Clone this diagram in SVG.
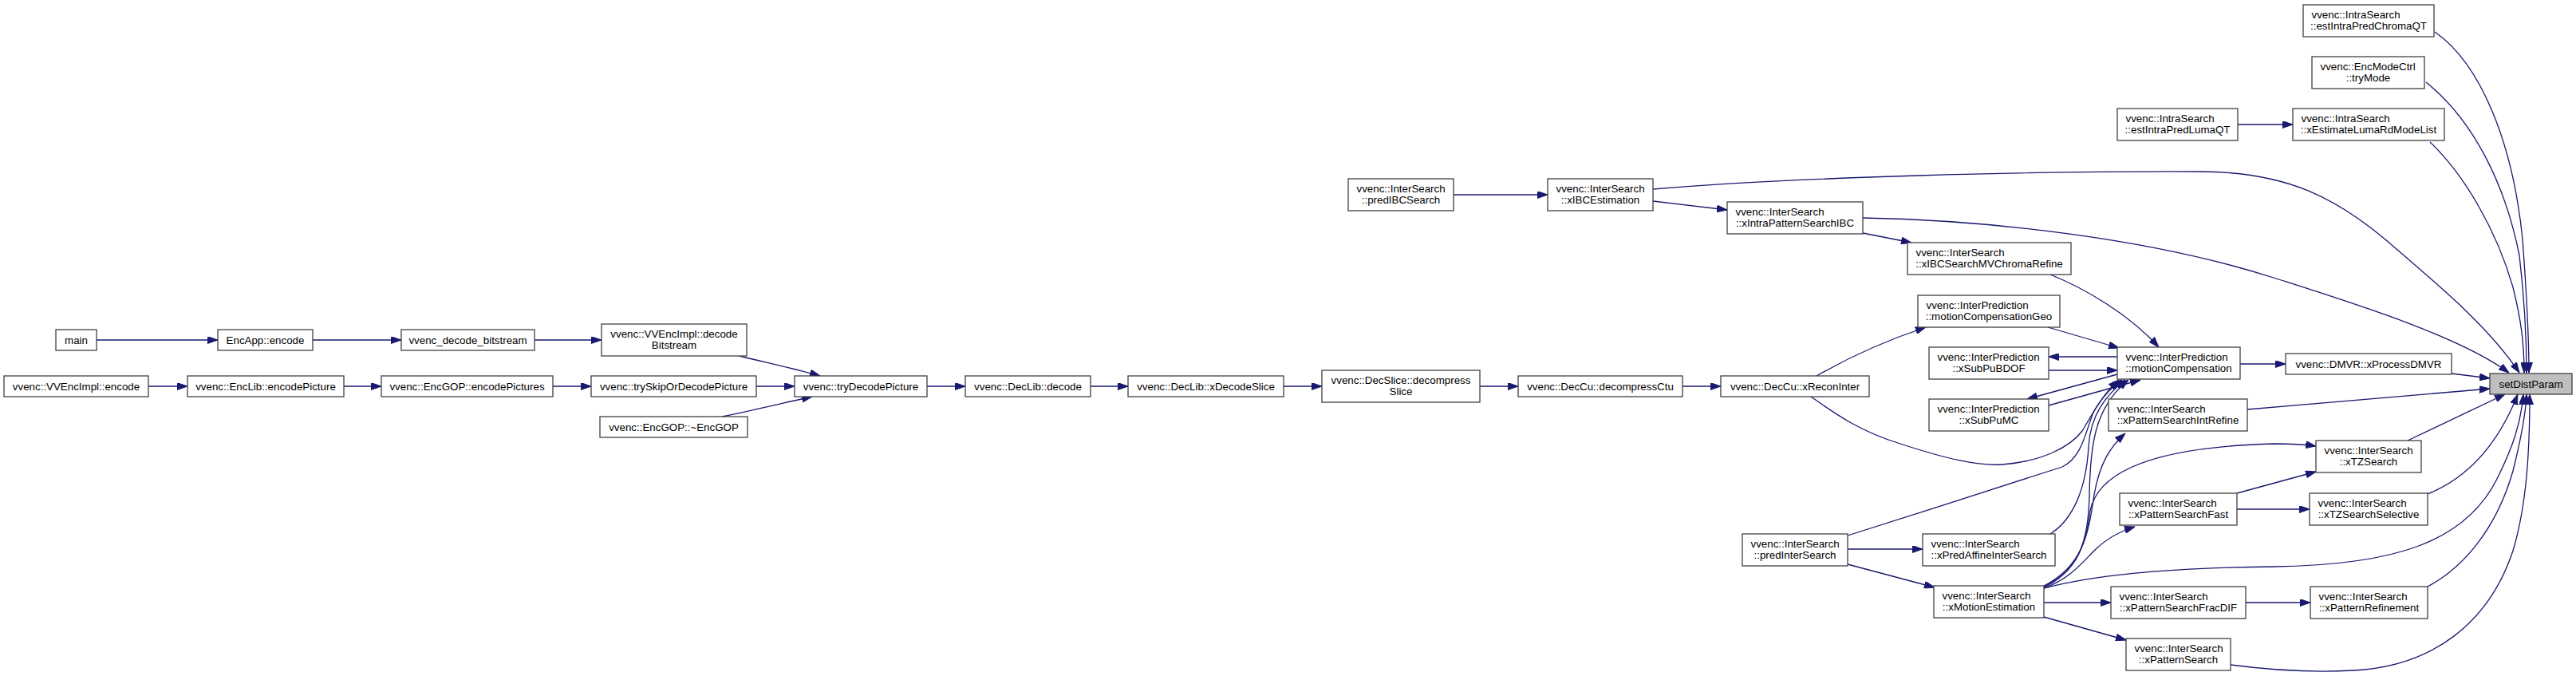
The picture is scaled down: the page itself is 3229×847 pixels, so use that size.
<svg xmlns="http://www.w3.org/2000/svg" width="3229" height="847" viewBox="0 0 3229 847">
<style>
.n rect{fill:#fff;stroke:#404040;stroke-width:1.3}
#n_sdp rect{fill:#bfbfbf}
text{font-family:"Liberation Sans",Arial,Helvetica,sans-serif;font-size:13.33px;fill:#000}
.m{text-anchor:middle}
.s{text-anchor:start}
.e path{fill:none;stroke:#191970;stroke-width:1.3;marker-end:url(#a)}
</style>
<defs>
<marker id="a" markerUnits="userSpaceOnUse" markerWidth="13" markerHeight="9" viewBox="0 0 13 9" refX="13" refY="4.5" orient="auto">
<path d="M0,0 L13,4.5 L0,9 z" fill="#191970" stroke="#191970" stroke-width="1"/>
</marker>
</defs>
<rect width="3229" height="847" fill="#fff"/>
<g class="e" id="edges">
<path d="M121,426 L273,426"/>
<path d="M392,426 L503,426"/>
<path d="M670,426 L754,426"/>
<path d="M927,446 C955,453 1000,463 1028,471"/>
<path d="M186,484 L235,484"/>
<path d="M431,484 L478,484"/>
<path d="M693,484 L741,484"/>
<path d="M948,484 L996,484"/>
<path d="M905,522 C945,514 985,504 1018,497"/>
<path d="M1162,484 L1210,484"/>
<path d="M1367,484 L1414,484"/>
<path d="M1609,484 L1657,484"/>
<path d="M1855,484 L1903,484"/>
<path d="M2109,484 L2157,484"/>
<path d="M2277,471 C2310,452 2360,428 2414,410"/>
<path d="M2270,497 C2300,518 2330,540 2382,556 C2440,575 2480,584 2510,582 C2560,578 2595,560 2610,540 C2625,515 2635,495 2656,476"/>
<path d="M2570,344 C2615,362 2670,395 2706,435"/>
<path d="M2567,410 L2656,436"/>
<path d="M2654,447 L2568,447"/>
<path d="M2568,464 L2654,464"/>
<path d="M2654,469 L2541,500"/>
<path d="M2568,508 L2683,476"/>
<path d="M1822,244 L1940,244"/>
<path d="M2072,252 L2165,263"/>
<path d="M2335,292 L2396,304"/>
<path d="M2072,237 C2250,222 2550,214 2760,215 C2870,216 2930,250 2990,300 C3060,360 3120,410 3158,467"/>
<path d="M2335,273 C2500,276 2700,300 2850,348 C2950,380 3080,420 3145,467"/>
<path d="M3052,40 C3110,80 3150,180 3162,300 C3168,380 3170,420 3170,467"/>
<path d="M3041,103 C3100,150 3140,230 3158,320 C3165,380 3167,420 3167,467"/>
<path d="M3046,178 C3090,220 3130,290 3150,360 C3160,400 3164,430 3164,467"/>
<path d="M2808,456 L2865,456"/>
<path d="M3073,468 L3121,474"/>
<path d="M2817,513 L3121,487"/>
<path d="M3018,552 L3140,494"/>
<path d="M3043,619 C3090,600 3130,560 3156,494"/>
<path d="M2562,737 C2620,722 2700,712 2850,710 C3000,708 3090,680 3130,600 C3150,560 3160,530 3163,494"/>
<path d="M3043,735 C3090,710 3130,660 3150,590 C3160,550 3166,520 3167,494"/>
<path d="M2796,833 C2850,840 2900,843 2950,840 C3050,835 3120,780 3150,690 C3168,630 3171,560 3171,494"/>
<path d="M2316,688 L2410,688"/>
<path d="M2316,707 L2425,736"/>
<path d="M2316,671 C2400,645 2520,605 2585,585 C2612,572 2615,535 2625,515 C2635,498 2645,486 2660,476"/>
<path d="M2570,669 C2600,650 2615,610 2618,560 C2620,520 2640,495 2664,476"/>
<path d="M2562,735 C2605,715 2618,680 2619,620 C2620,560 2625,510 2668,476"/>
<path d="M2562,734 C2610,710 2618,670 2625,620 C2632,580 2645,560 2664,543"/>
<path d="M2562,737 C2595,725 2610,705 2625,690 C2640,675 2660,665 2676,660"/>
<path d="M2562,736 C2605,715 2615,680 2620,640 C2630,590 2700,560 2850,556 C2870,556 2890,557 2903,559"/>
<path d="M2562,755 L2646,755"/>
<path d="M2562,773 L2665,802"/>
<path d="M2804,618 L2903,591"/>
<path d="M2804,638 L2895,638"/>
<path d="M2815,755 L2896,755"/>
<path d="M2805,156 L2874,156"/>
</g>
<g class="n" id="n_main"><rect x="70" y="413" width="51" height="26"/><text class="m" x="95.5" y="430.5">main</text></g>
<g class="n" id="n_encapp"><rect x="273" y="413" width="119" height="26"/><text class="m" x="332.5" y="430.5">EncApp::encode</text></g>
<g class="n" id="n_decbits"><rect x="503" y="413" width="167" height="26"/><text class="m" x="586.5" y="430.5">vvenc_decode_bitstream</text></g>
<g class="n" id="n_vvdecb"><rect x="754" y="406" width="182" height="40"/><text class="m" x="845" y="423">vvenc::VVEncImpl::decode</text><text class="m" x="845" y="437">Bitstream</text></g>
<g class="n" id="n_vvenc"><rect x="5" y="471" width="181" height="26"/><text class="m" x="95.5" y="488.5">vvenc::VVEncImpl::encode</text></g>
<g class="n" id="n_enclib"><rect x="235" y="471" width="196" height="26"/><text class="m" x="333" y="488.5">vvenc::EncLib::encodePicture</text></g>
<g class="n" id="n_encgop"><rect x="478" y="471" width="215" height="26"/><text class="m" x="585.5" y="488.5">vvenc::EncGOP::encodePictures</text></g>
<g class="n" id="n_tryskip"><rect x="741" y="471" width="207" height="26"/><text class="m" x="844.5" y="488.5">vvenc::trySkipOrDecodePicture</text></g>
<g class="n" id="n_dtor"><rect x="752" y="522" width="185" height="26"/><text class="m" x="844.5" y="539.5">vvenc::EncGOP::~EncGOP</text></g>
<g class="n" id="n_trydec"><rect x="996" y="471" width="166" height="26"/><text class="m" x="1079" y="488.5">vvenc::tryDecodePicture</text></g>
<g class="n" id="n_declib"><rect x="1210" y="471" width="157" height="26"/><text class="m" x="1288.5" y="488.5">vvenc::DecLib::decode</text></g>
<g class="n" id="n_xdecslice"><rect x="1414" y="471" width="195" height="26"/><text class="m" x="1511.5" y="488.5">vvenc::DecLib::xDecodeSlice</text></g>
<g class="n" id="n_decslice"><rect x="1657" y="464" width="198" height="40"/><text class="m" x="1756" y="481">vvenc::DecSlice::decompress</text><text class="m" x="1756" y="495">Slice</text></g>
<g class="n" id="n_decctu"><rect x="1903" y="471" width="206" height="26"/><text class="m" x="2006" y="488.5">vvenc::DecCu::decompressCtu</text></g>
<g class="n" id="n_recon"><rect x="2157" y="471" width="186" height="26"/><text class="m" x="2250" y="488.5">vvenc::DecCu::xReconInter</text></g>
<g class="n" id="n_predibc"><rect x="1690" y="224" width="132" height="40"/><text class="s" x="1700.5" y="241">vvenc::InterSearch</text><text class="m" x="1756" y="255">::predIBCSearch</text></g>
<g class="n" id="n_ibcest"><rect x="1940" y="224" width="132" height="40"/><text class="s" x="1950.5" y="241">vvenc::InterSearch</text><text class="m" x="2006" y="255">::xIBCEstimation</text></g>
<g class="n" id="n_intrapat"><rect x="2165" y="253" width="170" height="40"/><text class="s" x="2175.5" y="270">vvenc::InterSearch</text><text class="m" x="2250" y="284">::xIntraPatternSearchIBC</text></g>
<g class="n" id="n_chromaref"><rect x="2391" y="304" width="205" height="40"/><text class="s" x="2401.5" y="321">vvenc::InterSearch</text><text class="m" x="2493.5" y="335">::xIBCSearchMVChromaRefine</text></g>
<g class="n" id="n_mcgeo"><rect x="2404" y="370" width="178" height="40"/><text class="s" x="2414.5" y="387">vvenc::InterPrediction</text><text class="m" x="2493" y="401">::motionCompensationGeo</text></g>
<g class="n" id="n_bdof"><rect x="2418" y="435" width="150" height="40"/><text class="s" x="2428.5" y="452">vvenc::InterPrediction</text><text class="m" x="2493" y="466">::xSubPuBDOF</text></g>
<g class="n" id="n_mc"><rect x="2654" y="435" width="154" height="40"/><text class="s" x="2664.5" y="452">vvenc::InterPrediction</text><text class="m" x="2731" y="466">::motionCompensation</text></g>
<g class="n" id="n_submc"><rect x="2418" y="500" width="150" height="40"/><text class="s" x="2428.5" y="517">vvenc::InterPrediction</text><text class="m" x="2493" y="531">::xSubPuMC</text></g>
<g class="n" id="n_intref"><rect x="2643" y="500" width="174" height="40"/><text class="s" x="2653.5" y="517">vvenc::InterSearch</text><text class="m" x="2730" y="531">::xPatternSearchIntRefine</text></g>
<g class="n" id="n_fast"><rect x="2657" y="618" width="147" height="40"/><text class="s" x="2667.5" y="635">vvenc::InterSearch</text><text class="m" x="2730.5" y="649">::xPatternSearchFast</text></g>
<g class="n" id="n_predinter"><rect x="2184" y="669" width="132" height="40"/><text class="s" x="2194.5" y="686">vvenc::InterSearch</text><text class="m" x="2250" y="700">::predInterSearch</text></g>
<g class="n" id="n_affine"><rect x="2410" y="669" width="166" height="40"/><text class="s" x="2420.5" y="686">vvenc::InterSearch</text><text class="m" x="2493" y="700">::xPredAffineInterSearch</text></g>
<g class="n" id="n_me"><rect x="2424" y="734" width="138" height="40"/><text class="s" x="2434.5" y="751">vvenc::InterSearch</text><text class="m" x="2493" y="765">::xMotionEstimation</text></g>
<g class="n" id="n_fracdif"><rect x="2646" y="735" width="169" height="40"/><text class="s" x="2656.5" y="752">vvenc::InterSearch</text><text class="m" x="2730.5" y="766">::xPatternSearchFracDIF</text></g>
<g class="n" id="n_patsearch"><rect x="2665" y="800" width="131" height="40"/><text class="s" x="2675.5" y="817">vvenc::InterSearch</text><text class="m" x="2730.5" y="831">::xPatternSearch</text></g>
<g class="n" id="n_dmvr"><rect x="2865" y="443" width="208" height="26"/><text class="m" x="2969" y="460.5">vvenc::DMVR::xProcessDMVR</text></g>
<g class="n" id="n_sdp"><rect x="3121" y="468" width="103" height="26"/><text class="m" x="3172.5" y="485.5">setDistParam</text></g>
<g class="n" id="n_tz"><rect x="2903" y="552" width="132" height="40"/><text class="s" x="2913.5" y="569">vvenc::InterSearch</text><text class="m" x="2969" y="583">::xTZSearch</text></g>
<g class="n" id="n_tzsel"><rect x="2895" y="618" width="148" height="40"/><text class="s" x="2905.5" y="635">vvenc::InterSearch</text><text class="m" x="2969" y="649">::xTZSearchSelective</text></g>
<g class="n" id="n_patref"><rect x="2896" y="735" width="147" height="40"/><text class="s" x="2906.5" y="752">vvenc::InterSearch</text><text class="m" x="2969.5" y="766">::xPatternRefinement</text></g>
<g class="n" id="n_chromaqt"><rect x="2887" y="6" width="164" height="40"/><text class="s" x="2897.5" y="23">vvenc::IntraSearch</text><text class="m" x="2969" y="37">::estIntraPredChromaQT</text></g>
<g class="n" id="n_trymode"><rect x="2898" y="71" width="141" height="40"/><text class="s" x="2908.5" y="88">vvenc::EncModeCtrl</text><text class="m" x="2968.5" y="102">::tryMode</text></g>
<g class="n" id="n_lumaqt"><rect x="2654" y="136" width="151" height="40"/><text class="s" x="2664.5" y="153">vvenc::IntraSearch</text><text class="m" x="2729.5" y="167">::estIntraPredLumaQT</text></g>
<g class="n" id="n_lumard"><rect x="2874" y="136" width="190" height="40"/><text class="s" x="2884.5" y="153">vvenc::IntraSearch</text><text class="m" x="2969" y="167">::xEstimateLumaRdModeList</text></g>
</svg>
